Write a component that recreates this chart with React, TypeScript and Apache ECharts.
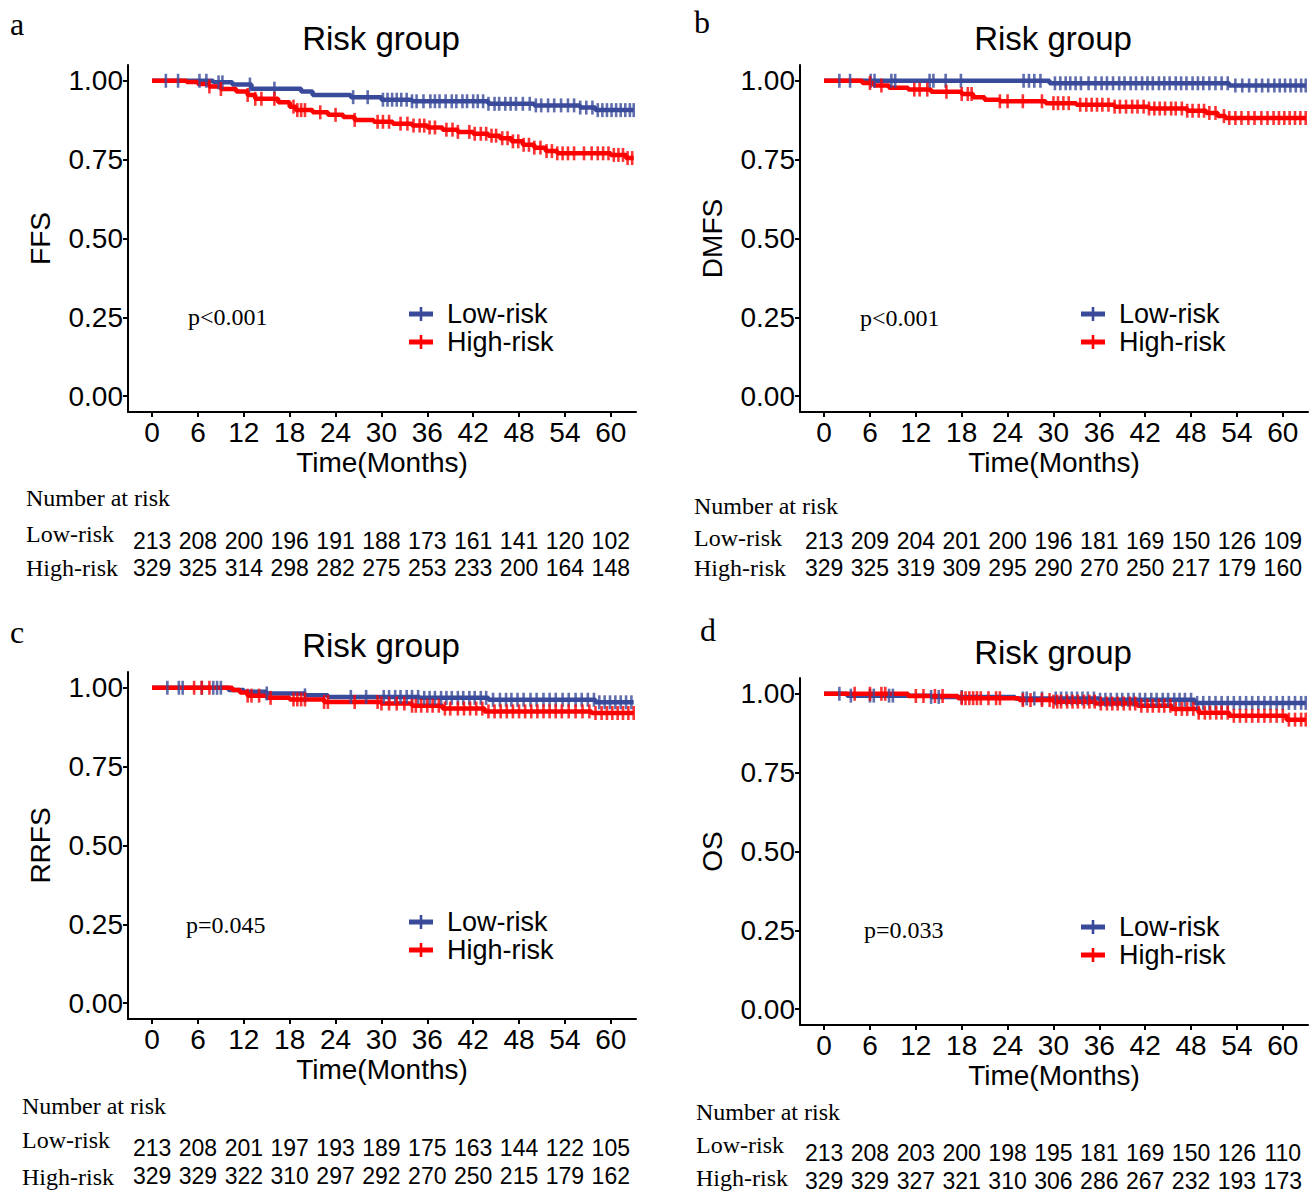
import React, { useEffect, useRef } from "react";
import * as echarts from "echarts";

// ---------- data ----------
const TIME_TICKS = [0, 6, 12, 18, 24, 30, 36, 42, 48, 54, 60];
const SURV_TICKS = [0, 0.25, 0.5, 0.75, 1];
const GROUPS = ["Low-risk", "High-risk"];
const PANEL_LETTERS = ["a", "b", "c", "d"];
const Y_TITLES = ["FFS", "DMFS", "RRFS", "OS"];
const P_VALUES = ["p<0.001", "p<0.001", "p=0.045", "p=0.033"];
const PLOT_TITLE = "Risk group";
const X_TITLE = "Time(Months)";
const TABLE_TITLE = "Number at risk";

const FFS_LOW_STEPS = [[0, 1], [8, 0.995], [10.5, 0.988], [13, 0.975], [19.5, 0.966], [21, 0.955], [26, 0.948], [30, 0.94], [34, 0.935], [44, 0.927], [50, 0.922], [56, 0.915], [58, 0.907], [63, 0.907]];
const FFS_HIGH_STEPS = [[0, 1], [4.5, 0.996], [6, 0.99], [7.5, 0.982], [9, 0.974], [11, 0.966], [12.5, 0.955], [13.5, 0.943], [16.5, 0.932], [18, 0.918], [18.8, 0.907], [21, 0.9], [23, 0.892], [25, 0.885], [26.5, 0.876], [29, 0.87], [31.5, 0.864], [34, 0.858], [36, 0.852], [38, 0.845], [40, 0.838], [42, 0.832], [44, 0.826], [45.5, 0.818], [47, 0.808], [48.5, 0.797], [50, 0.788], [51.5, 0.777], [53, 0.77], [60, 0.765], [62, 0.755], [63, 0.755]];
const FFS_LOW_CENSOR = [1.8, 3.4, 6.2, 7.1, 8.7, 9.2, 12.8, 16, 26.3, 28.2, 30.2, 30.8, 31.4, 32, 32.6, 33.3, 34, 34.6, 35.5, 36.4, 37, 37.6, 38.4, 39.2, 39.8, 40.6, 41.2, 42, 42.6, 43.3, 44, 44.8, 45.4, 46.2, 46.9, 47.6, 48.5, 49.4, 50.2, 50.9, 51.8, 52.6, 53.5, 54.4, 55.2, 56, 56.8, 57.6, 58.3, 58.9, 59.5, 60.1, 60.7, 61.3, 61.9, 62.5, 63];
const FFS_HIGH_CENSOR = [7.5, 9, 12.5, 13.5, 14.3, 16, 18.5, 19, 19.5, 20, 22, 24, 26.5, 29.5, 30.2, 31, 32.5, 33.4, 34.2, 35, 35.6, 36.3, 37, 38.5, 39.3, 40, 41.5, 42.2, 43, 43.7, 44.4, 45, 45.8, 46.5, 47.2, 47.9, 48.6, 49.3, 50, 50.8, 51.6, 52.3, 53, 53.7, 54.4, 55.2, 56.5, 57.5, 58.3, 59, 59.7, 60.4, 61, 61.6, 62.2, 62.8];

const DMFS_LOW_STEPS = [[0, 1], [29.5, 0.992], [53, 0.985], [63, 0.985]];
const DMFS_HIGH_STEPS = [[0, 1], [5, 0.993], [6.5, 0.985], [8.5, 0.978], [11, 0.972], [14, 0.965], [18, 0.958], [19.5, 0.948], [21, 0.94], [23, 0.935], [29, 0.929], [33, 0.924], [38, 0.918], [42.5, 0.912], [47.5, 0.905], [50, 0.898], [51.5, 0.888], [52.5, 0.882], [63, 0.882]];
const DMFS_LOW_CENSOR = [2, 3.4, 6.1, 6.6, 8.8, 9.3, 13.8, 14.3, 15.9, 17.9, 26.1, 26.8, 27.5, 28.3, 30.2, 30.9, 31.6, 32.2, 32.9, 33.6, 34.6, 35.5, 36.3, 37, 37.8, 38.6, 39.3, 40.1, 40.8, 41.6, 42.3, 43, 43.8, 44.5, 45.2, 46, 46.7, 47.4, 48.2, 48.9, 49.6, 50.4, 51.2, 52, 52.8, 53.8, 54.7, 55.6, 56.5, 57.3, 58.1, 58.9, 59.6, 60.3, 61, 61.7, 62.4, 63];
const DMFS_HIGH_CENSOR = [6, 7.5, 11.8, 12.5, 13.5, 16, 18, 18.8, 19.3, 23, 24, 26, 28.5, 30, 30.6, 31.3, 32, 33.5, 34.3, 35, 35.7, 36.4, 37.2, 38, 38.7, 39.5, 40.3, 41, 41.8, 42.5, 43.2, 43.9, 44.6, 45.4, 46, 46.8, 47.5, 48.2, 49, 49.7, 50.4, 51.2, 52.3, 53, 53.8, 54.6, 55.5, 56.3, 57.2, 58, 58.8, 59.5, 60.2, 60.9, 61.6, 62.3, 63];

const RRFS_LOW_STEPS = [[0, 1], [10, 0.993], [12, 0.987], [15, 0.982], [20, 0.976], [23, 0.971], [35, 0.968], [44, 0.962], [58, 0.954], [63, 0.954]];
const RRFS_HIGH_STEPS = [[0, 1], [10.5, 0.993], [11.5, 0.985], [12.5, 0.975], [15, 0.968], [18, 0.963], [22.5, 0.955], [30, 0.95], [34, 0.943], [38, 0.934], [43.5, 0.925], [57.5, 0.92], [63, 0.92]];
const RRFS_LOW_CENSOR = [2, 3.5, 4, 6.5, 8, 8.5, 9, 15, 20, 26, 28, 30.3, 31, 31.8, 32.5, 33.3, 34, 34.8, 35.6, 36.3, 37, 37.8, 38.5, 39.2, 40, 40.7, 41.5, 42.2, 43, 43.7, 44.6, 45.5, 46.3, 47, 47.8, 48.6, 49.5, 50.3, 51.2, 52, 52.8, 53.7, 54.5, 55.4, 56.2, 57, 57.8, 58.5, 59.2, 59.9, 60.6, 61.3, 62, 62.7];
const RRFS_HIGH_CENSOR = [5.5, 6.5, 7.5, 12.5, 13, 14, 15.5, 18.5, 19, 19.5, 20, 22.5, 23, 26.5, 29.5, 30, 31, 32, 33, 34, 34.5, 35.2, 36, 36.7, 37.5, 38.3, 39, 40, 40.8, 41.6, 42.4, 43.2, 44, 44.8, 45.6, 46.4, 47.2, 48, 48.8, 49.6, 50.4, 51.2, 52, 52.8, 53.6, 54.5, 55.4, 56.3, 57.2, 58, 58.8, 59.5, 60.2, 60.9, 61.6, 62.3, 63];

const OS_LOW_STEPS = [[0, 1], [3, 0.994], [14, 0.99], [25, 0.985], [36, 0.981], [48.5, 0.971], [63, 0.971]];
const OS_HIGH_STEPS = [[0, 1], [11, 0.993], [17.5, 0.986], [25.5, 0.98], [30, 0.975], [35.5, 0.969], [41, 0.962], [45.5, 0.952], [49, 0.94], [53, 0.93], [60.5, 0.918], [63, 0.918]];
const OS_LOW_CENSOR = [2, 3.5, 6, 6.5, 8.5, 9, 14, 15, 18, 26, 26.5, 27.5, 28.5, 30.3, 31, 31.7, 32.4, 33.1, 33.8, 34.5, 35.3, 36.1, 36.8, 37.5, 38.3, 39, 39.8, 40.5, 41.3, 42, 42.8, 43.5, 44.3, 45, 45.8, 46.5, 47.2, 48, 48.8, 49.6, 50.4, 51.2, 52, 52.8, 53.6, 54.4, 55.2, 56, 56.8, 57.6, 58.4, 59.2, 60, 60.8, 61.6, 62.4, 63];
const OS_HIGH_CENSOR = [4, 6, 7.5, 8, 12, 13, 14.5, 15.5, 18, 18.5, 19, 19.5, 20, 20.5, 21.5, 22.5, 23, 26, 27, 28.5, 29.5, 30, 30.5, 31, 31.8, 32.5, 33.2, 34, 34.7, 35.4, 36.2, 37, 37.7, 38.4, 39.2, 40, 40.7, 41.5, 42.3, 43, 43.8, 44.5, 45.3, 46, 46.8, 47.5, 48.3, 49, 49.8, 50.5, 51.3, 52, 52.8, 53.6, 54.4, 55.2, 56, 56.8, 57.6, 58.4, 59.2, 60, 60.8, 61.6, 62.4, 63];

const FFS_LOW_RISK = [213, 208, 200, 196, 191, 188, 173, 161, 141, 120, 102];
const FFS_HIGH_RISK = [329, 325, 314, 298, 282, 275, 253, 233, 200, 164, 148];
const DMFS_LOW_RISK = [213, 209, 204, 201, 200, 196, 181, 169, 150, 126, 109];
const DMFS_HIGH_RISK = [329, 325, 319, 309, 295, 290, 270, 250, 217, 179, 160];
const RRFS_LOW_RISK = [213, 208, 201, 197, 193, 189, 175, 163, 144, 122, 105];
const RRFS_HIGH_RISK = [329, 329, 322, 310, 297, 292, 270, 250, 215, 179, 162];
const OS_LOW_RISK = [213, 208, 203, 200, 198, 195, 181, 169, 150, 126, 110];
const OS_HIGH_RISK = [329, 329, 327, 321, 310, 306, 286, 267, 232, 193, 173];

const PANEL_DATA = [
  { low: FFS_LOW_STEPS, high: FFS_HIGH_STEPS, lowC: FFS_LOW_CENSOR, highC: FFS_HIGH_CENSOR, lowN: FFS_LOW_RISK, highN: FFS_HIGH_RISK },
  { low: DMFS_LOW_STEPS, high: DMFS_HIGH_STEPS, lowC: DMFS_LOW_CENSOR, highC: DMFS_HIGH_CENSOR, lowN: DMFS_LOW_RISK, highN: DMFS_HIGH_RISK },
  { low: RRFS_LOW_STEPS, high: RRFS_HIGH_STEPS, lowC: RRFS_LOW_CENSOR, highC: RRFS_HIGH_CENSOR, lowN: RRFS_LOW_RISK, highN: RRFS_HIGH_RISK },
  { low: OS_LOW_STEPS, high: OS_HIGH_STEPS, lowC: OS_LOW_CENSOR, highC: OS_HIGH_CENSOR, lowN: OS_LOW_RISK, highN: OS_HIGH_RISK },
];

// ---------- layout / style ----------
const BLUE = "#3A4A9A";
const RED = "#FF0000";
const SANS = "Liberation Sans, Arial, sans-serif";
const SERIF = "Liberation Serif, Times New Roman, serif";
const GRID_W = 508;
const GRID_H = 347;

const LAYOUT = [
  { left: 128, top: 65, letter: [10, 24], title: 38, p: [188, 317], leg: [421, 314, 342], tab: { x: 26, title: 498, lowLab: 534, lowNum: 541, highLab: 568, highNum: 568 } },
  { left: 800, top: 65, letter: [694, 22], title: 38, p: [860, 318], leg: [1093, 314, 342], tab: { x: 694, title: 506, lowLab: 538, lowNum: 541, highLab: 568, highNum: 568 } },
  { left: 128, top: 672, letter: [10, 632], title: 645, p: [186, 925], leg: [421, 922, 950], tab: { x: 22, title: 1106, lowLab: 1140, lowNum: 1148, highLab: 1177, highNum: 1176 } },
  { left: 800, top: 678, letter: [700, 630], title: 652, p: [864, 930], leg: [1093, 927, 955], tab: { x: 696, title: 1112, lowLab: 1145, lowNum: 1153, highLab: 1178, highNum: 1181 } },
];

function survAt(steps: number[][], t: number): number {
  let s = 1;
  for (const [ti, si] of steps) {
    if (ti <= t) s = si;
    else break;
  }
  return s;
}

export default function App() {
  const ref = useRef<HTMLDivElement>(null);
  useEffect(() => {
    document.body.style.margin = "0";
    const chart = echarts.init(ref.current!, null, { renderer: "svg" });

    const grid: any[] = [];
    const xAxis: any[] = [];
    const yAxis: any[] = [];
    const series: any[] = [];
    LAYOUT.forEach((l, i) => {
      grid.push({ left: l.left, top: l.top, width: GRID_W, height: GRID_H });
      xAxis.push({
        type: "value", gridIndex: i, min: -3.15, max: 63.3,
        axisLine: { show: true, onZero: false, lineStyle: { color: "#000", width: 2 } },
        axisTick: { show: true, length: 5, customValues: TIME_TICKS, lineStyle: { color: "#000", width: 2 } },
        axisLabel: { customValues: TIME_TICKS, fontSize: 28, color: "#000", fontFamily: SANS, margin: 6 },
        splitLine: { show: false },
        name: X_TITLE, nameLocation: "middle", nameGap: 36,
        nameTextStyle: { fontSize: 28, color: "#000", fontFamily: SANS },
      });
      yAxis.push({
        type: "value", gridIndex: i, min: -0.05, max: 1.05,
        axisLine: { show: true, onZero: false, lineStyle: { color: "#000", width: 2 } },
        axisTick: { show: true, length: 5, customValues: SURV_TICKS, lineStyle: { color: "#000", width: 2 } },
        axisLabel: { customValues: SURV_TICKS, fontSize: 28, color: "#000", fontFamily: SANS, margin: 5, formatter: (v: number) => v.toFixed(2) },
        splitLine: { show: false },
        name: Y_TITLES[i], nameLocation: "middle", nameGap: 74,
        nameTextStyle: { fontSize: 28, color: "#000", fontFamily: SANS },
      });
      const d = PANEL_DATA[i];
      const lineCommon = { type: "line", xAxisIndex: i, yAxisIndex: i, step: "end", showSymbol: false, silent: true };
      series.push({ ...lineCommon, name: GROUPS[0], data: d.low, lineStyle: { color: BLUE, width: 4.5 }, itemStyle: { color: BLUE }, z: 2 });
      series.push({ ...lineCommon, name: GROUPS[1], data: d.high, lineStyle: { color: RED, width: 4.5 }, itemStyle: { color: RED }, z: 3 });
      const scatCommon = { type: "scatter", xAxisIndex: i, yAxisIndex: i, symbol: "rect", symbolSize: [2.6, 14], silent: true };
      series.push({ ...scatCommon, name: GROUPS[0], data: d.lowC.map((t) => [t, survAt(d.low, t)]), itemStyle: { color: BLUE }, z: 4 });
      series.push({ ...scatCommon, name: GROUPS[1], data: d.highC.map((t) => [t, survAt(d.high, t)]), itemStyle: { color: RED }, z: 5 });
    });

    chart.setOption({ animation: false, backgroundColor: "#fff", grid, xAxis, yAxis, series });

    const graphic: any[] = [];
    LAYOUT.forEach((l, i) => {
      const d = PANEL_DATA[i];
      const cx = l.left + GRID_W / 2 - 1;
      const sansText = (x: number, y: number, text: string, size: number, align = "left") => ({
        type: "text", x, y, silent: true,
        style: { text, fontSize: size, fontFamily: SANS, fill: "#000", align, verticalAlign: "middle" },
      });
      const serifText = (x: number, y: number, text: string, size: number) => ({
        type: "text", x, y, silent: true,
        style: { text, fontSize: size, fontFamily: SERIF, fill: "#000", align: "left", verticalAlign: "middle" },
      });
      graphic.push(serifText(l.letter[0], l.letter[1], PANEL_LETTERS[i], 32));
      graphic.push(sansText(cx, l.title, PLOT_TITLE, 33, "center"));
      graphic.push(serifText(l.p[0], l.p[1], P_VALUES[i], 24));
      // legend
      [BLUE, RED].forEach((c, g) => {
        const sx = l.leg[0];
        const sy = l.leg[1 + g];
        graphic.push({ type: "rect", silent: true, shape: { x: sx - 12, y: sy - 2.5, width: 24, height: 5 }, style: { fill: c } });
        graphic.push({ type: "rect", silent: true, shape: { x: sx - 1.3, y: sy - 7, width: 2.6, height: 14 }, style: { fill: c } });
        graphic.push(sansText(sx + 26, sy, GROUPS[g], 27));
      });
      // number at risk table
      const tb = l.tab;
      graphic.push(serifText(tb.x, tb.title, TABLE_TITLE, 24));
      graphic.push(serifText(tb.x, tb.lowLab, GROUPS[0], 24));
      graphic.push(serifText(tb.x, tb.highLab, GROUPS[1], 24));
      TIME_TICKS.forEach((t, k) => {
        const px = chart.convertToPixel({ xAxisIndex: i }, t) as number;
        graphic.push(sansText(px, tb.lowNum, String(d.lowN[k]), 23, "center"));
        graphic.push(sansText(px, tb.highNum, String(d.highN[k]), 23, "center"));
      });
    });
    chart.setOption({ graphic });

    return () => chart.dispose();
  }, []);
  return <div ref={ref} style={{ width: 1316, height: 1193 }} />;
}
